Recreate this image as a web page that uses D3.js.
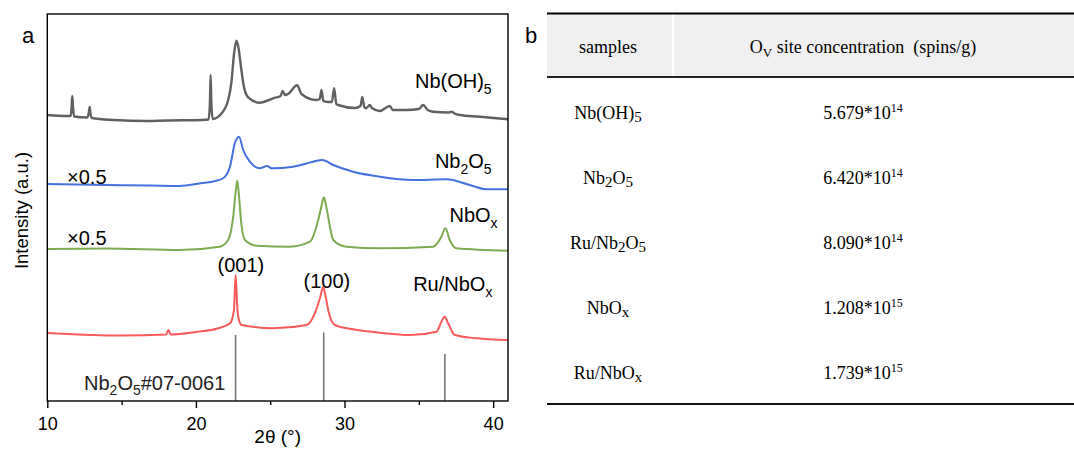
<!DOCTYPE html>
<html>
<head>
<meta charset="utf-8">
<script src="https://cdn.jsdelivr.net/npm/d3@7"></script>
<style>
body { margin: 0; background: #fff; }
svg { display: block; }
</style>
</head>
<body>
<svg width="1074" height="450"></svg>
<script>
// panel a : XRD patterns, [2theta, intensity] (stacked, a.u.)
var nbOH5 = [[10, 286], [11.3, 285], [11.58, 285], [11.64, 295], [11.68, 305], [11.73, 294], [11.8, 284.5],
    [12.7, 283.5], [12.8, 289], [12.85, 294], [12.9, 288], [13.0, 283], [14.5, 281], [16.7, 280], [18.0, 280.5],
    [20.4, 281], [20.85, 281.5], [20.94, 297], [20.99, 326], [21.04, 297], [21.13, 282], [21.73, 287.7],
    [22.17, 301], [22.4, 320], [22.55, 345], [22.73, 360.3], [22.88, 352], [23.03, 334.3], [23.23, 314.3],
    [23.52, 303.7], [24.3, 298.3], [25.2, 302.7], [25.7, 305], [25.83, 310], [26.0, 306], [26.2, 307],
    [26.81, 315.7], [27.1, 307], [28.1, 301], [28.33, 302], [28.45, 311], [28.58, 300], [28.74, 299.3],
    [29.15, 299], [29.3, 312.7], [29.45, 297], [29.57, 296], [30.7, 293], [31.07, 295], [31.2, 304],
    [31.33, 294], [31.45, 292.7], [31.7, 296], [31.85, 293], [32.37, 290], [33.05, 295], [33.25, 291],
    [34.17, 291], [35.0, 292], [35.29, 296], [35.6, 291], [35.96, 289.3], [37.0, 288.5], [37.2, 289.3],
    [37.4, 287.5], [37.75, 286], [39.1, 284.3], [41, 281.7]];
var nb2o5 = [[10, 217], [14.0, 216], [17.0, 215.5], [18.9, 215], [20.3, 217.7], [21.3, 220], [21.83, 222.7],
    [22.29, 234.3], [22.62, 257.7], [22.9, 264.3], [23.18, 251], [23.63, 239.3], [24.3, 232.7], [24.8, 235],
    [25.09, 232.7], [26.54, 234.3], [27.89, 239.3], [28.52, 241], [29.24, 236], [30.58, 229.3], [32.37, 224.3],
    [34.62, 221], [36.86, 221.7], [38.43, 216], [39.55, 211.7], [41, 211.7]];
var nbOx = [[10, 152], [14.0, 152.5], [18.9, 151], [21.6, 154.3], [22.17, 161], [22.51, 184.3], [22.68, 210],
    [22.78, 220.3], [22.9, 205], [23.03, 181], [23.3, 161], [24.08, 155.3], [26.32, 154.3], [27.67, 159.3],
    [28.23, 181], [28.45, 195], [28.61, 203.7], [28.75, 196], [28.9, 184.3], [29.24, 161], [30.13, 154.3],
    [32.37, 152.7], [35.96, 154.3], [36.52, 164.3], [36.79, 172.7], [37.08, 161], [37.53, 152.7], [41, 150.3]];
var ruNbOx = [[10, 68], [13.0, 66], [15.0, 65.5], [18.0, 66.5], [18.15, 71], [18.3, 66.5], [20.0, 69],
    [21.5, 72.7], [22.3, 77.7], [22.56, 91], [22.67, 126], [22.78, 95], [22.85, 84.3], [23.07, 76],
    [25.2, 72.7], [27.44, 76], [28.0, 87.7], [28.35, 103], [28.56, 113.7], [28.75, 103], [28.9, 91],
    [29.35, 76], [30.58, 71.7], [32.37, 68.3], [34.39, 66], [36.19, 69.3], [36.52, 79.3], [36.74, 84.3],
    [36.97, 77.7], [37.42, 66], [38.88, 62.7], [41, 61]];

// Nb2O5 #07-0061 reference lines
var refPos = [22.67, 28.6, 36.75];
var refInt = [66, 68.5, 47];

var xTicks = [10, 20, 30, 40];
var xMinor = [15, 25, 35];

// panel b : EPR table
var samples = ["Nb(OH)5", "Nb2O5", "Ru/Nb2O5", "NbOx", "Ru/NbOx"];
var mantissa = ["5.679", "6.420", "8.090", "1.208", "1.739"];
var exponent = ["14", "14", "14", "15", "15"];

var series = [
    {name: "Nb(OH)5", values: nbOH5, color: "#606060", width: 2.4, lx: 39.9, ly: 313},
    {name: "Nb2O5", values: nb2o5, color: "#4470e0", width: 2, lx: 39.9, ly: 233},
    {name: "NbOx", values: nbOx, color: "#7dab52", width: 2, lx: 40.3, ly: 179},
    {name: "Ru/NbOx", values: ruNbOx, color: "#fa5a5a", width: 2, lx: 39.95, ly: 110}
];

var svg = d3.select("svg");

var x = d3.scaleLinear().domain([10, 41]).range([47.3, 508]);
var y = d3.scaleLinear().domain([0, 387]).range([401, 14]);

// writes a chemical formula with digits / x after a letter as subscripts
function formula(text, str, subSize, shift) {
    var groups = [];
    for (var i = 0; i < str.length; i++) {
        var c = str[i];
        var sub = /[0-9x]/.test(c) && i > 0 && /[A-Za-z)]/.test(str[i - 1]);
        if (groups.length && groups[groups.length - 1].sub === sub) groups[groups.length - 1].t += c;
        else groups.push({t: c, sub: sub});
    }
    var prevSub = false;
    groups.forEach(function(g) {
        var ts = text.append("tspan").text(g.t);
        if (g.sub) {
            ts.attr("dy", shift).attr("font-size", subSize);
        } else if (prevSub) {
            ts.attr("dy", -shift);
        }
        prevSub = g.sub;
    });
    return text;
}

var line = d3.line()
    .x(function(d) { return x(d[0]); })
    .y(function(d) { return y(d[1]); })
    .curve(d3.curveMonotoneX);

var gA = svg.append("g").attr("font-family", "Arial, 'Liberation Sans', sans-serif");

gA.selectAll(".ref")
    .data(refPos)
    .enter().append("line")
    .attr("class", "ref")
    .attr("x1", function(d) { return x(d); })
    .attr("x2", function(d) { return x(d); })
    .attr("y1", y(0))
    .attr("y2", function(d, i) { return y(refInt[i]); })
    .attr("stroke", "#777")
    .attr("stroke-width", 1.6);

gA.selectAll(".xrd")
    .data(series)
    .enter().append("path")
    .attr("class", "xrd")
    .attr("d", function(d) { return line(d.values); })
    .attr("fill", "none")
    .attr("stroke", function(d) { return d.color; })
    .attr("stroke-width", function(d) { return d.width; })
    .attr("stroke-linejoin", "round");

series.forEach(function(s) {
    var t = gA.append("text")
        .attr("x", x(s.lx))
        .attr("y", y(s.ly))
        .attr("text-anchor", "end")
        .attr("font-size", 20);
    formula(t, s.name, 14, 6);
});

// scale factors and peak indices
[[11.33, 217], [11.33, 156]].forEach(function(p) {
    gA.append("text")
        .attr("x", x(p[0]))
        .attr("y", y(p[1]))
        .attr("font-size", 20)
        .text("\u00d70.5");
});
[["(001)", 23.03, 129], ["(100)", 28.81, 113]].forEach(function(p) {
    gA.append("text")
        .attr("x", x(p[1]))
        .attr("y", y(p[2]))
        .attr("text-anchor", "middle")
        .attr("font-size", 20)
        .text(p[0]);
});
formula(gA.append("text")
    .attr("x", x(12.47))
    .attr("y", y(11))
    .attr("font-size", 20)
    .attr("fill", "#222"), "Nb2O5#07-0061", 14, 5);

// axes
var xAxis = gA.append("g")
    .attr("transform", "translate(0," + y(0) + ")")
    .call(d3.axisBottom(x).tickValues(xTicks).tickSize(7).tickPadding(9).tickSizeOuter(0));
xAxis.select(".domain").remove();
xAxis.selectAll("text").attr("font-size", 18).attr("font-family", "Arial, 'Liberation Sans', sans-serif").attr("fill", "#000");
xAxis.selectAll("line").attr("stroke", "#000").attr("stroke-width", 1.4);

gA.append("g")
    .attr("transform", "translate(0," + y(0) + ")")
    .call(d3.axisBottom(x).tickValues(xMinor).tickSize(4).tickFormat("").tickSizeOuter(0))
    .call(function(g) { g.select(".domain").remove(); })
    .selectAll("line").attr("stroke", "#000").attr("stroke-width", 1.4);

gA.append("rect")
    .attr("x", x(10))
    .attr("y", y(387))
    .attr("width", x(41) - x(10))
    .attr("height", y(0) - y(387))
    .attr("fill", "none")
    .attr("stroke", "#000")
    .attr("stroke-width", 1.4);

gA.append("text")
    .attr("x", (x(10) + x(41)) / 2)
    .attr("y", 443)
    .attr("text-anchor", "middle")
    .attr("font-size", 19)
    .text("2\u03b8 (\u00b0)");

gA.append("text")
    .attr("transform", "translate(28," + ((y(0) + y(387)) / 2 + 3) + ") rotate(-90)")
    .attr("text-anchor", "middle")
    .attr("font-size", 18.5)
    .text("Intensity (a.u.)");

gA.append("text").attr("x", 22).attr("y", 43).attr("font-size", 22).text("a");
gA.append("text").attr("x", 525).attr("y", 43).attr("font-size", 22).text("b");

// panel b table
var tx0 = 547, tx1 = 1074, hTop = 14, hBot = 77, tBot = 404;
var colX = [608, 863];
var gB = svg.append("g").attr("font-family", "'Liberation Serif', 'Times New Roman', serif").attr("font-size", 18);

gB.append("rect")
    .attr("x", tx0).attr("y", hTop)
    .attr("width", tx1 - tx0).attr("height", hBot - hTop)
    .attr("fill", "#f0f0f0");
gB.append("line")
    .attr("x1", 673).attr("x2", 673).attr("y1", hTop).attr("y2", hBot)
    .attr("stroke", "#fff").attr("stroke-width", 2);

[[hTop - 0.5, "#000"], [hBot, "#222"], [tBot, "#111"]].forEach(function(l) {
    gB.append("line")
        .attr("x1", tx0).attr("x2", tx1)
        .attr("y1", l[0]).attr("y2", l[0])
        .attr("stroke", l[1]).attr("stroke-width", 2);
});

gB.append("text")
    .attr("x", colX[0]).attr("y", 53)
    .attr("text-anchor", "middle")
    .text("samples");
var head = gB.append("text")
    .attr("x", colX[1]).attr("y", 53)
    .attr("text-anchor", "middle")
    .style("white-space", "pre");
head.append("tspan").text("O");
head.append("tspan").attr("dy", 4).attr("font-size", 13).text("V");
head.append("tspan").attr("dy", -4).text(" site concentration  (spins/g)");

var row = d3.scaleBand().domain(samples).range([80, 405]);

gB.selectAll(".sample")
    .data(samples)
    .enter().append("text")
    .attr("class", "sample")
    .attr("x", colX[0])
    .attr("y", function(d) { return row(d) + row.bandwidth() / 2 + 6; })
    .attr("text-anchor", "middle")
    .each(function(d) { formula(d3.select(this), d, 15, 3); });

gB.selectAll(".conc")
    .data(samples)
    .enter().append("text")
    .attr("class", "conc")
    .attr("x", colX[1])
    .attr("y", function(d) { return row(d) + row.bandwidth() / 2 + 6; })
    .attr("text-anchor", "middle")
    .each(function(d, i) {
        var t = d3.select(this);
        t.append("tspan").text(mantissa[i] + "*10");
        t.append("tspan").attr("dy", -7).attr("font-size", 12).text(exponent[i]);
    });
</script>
</body>
</html>
